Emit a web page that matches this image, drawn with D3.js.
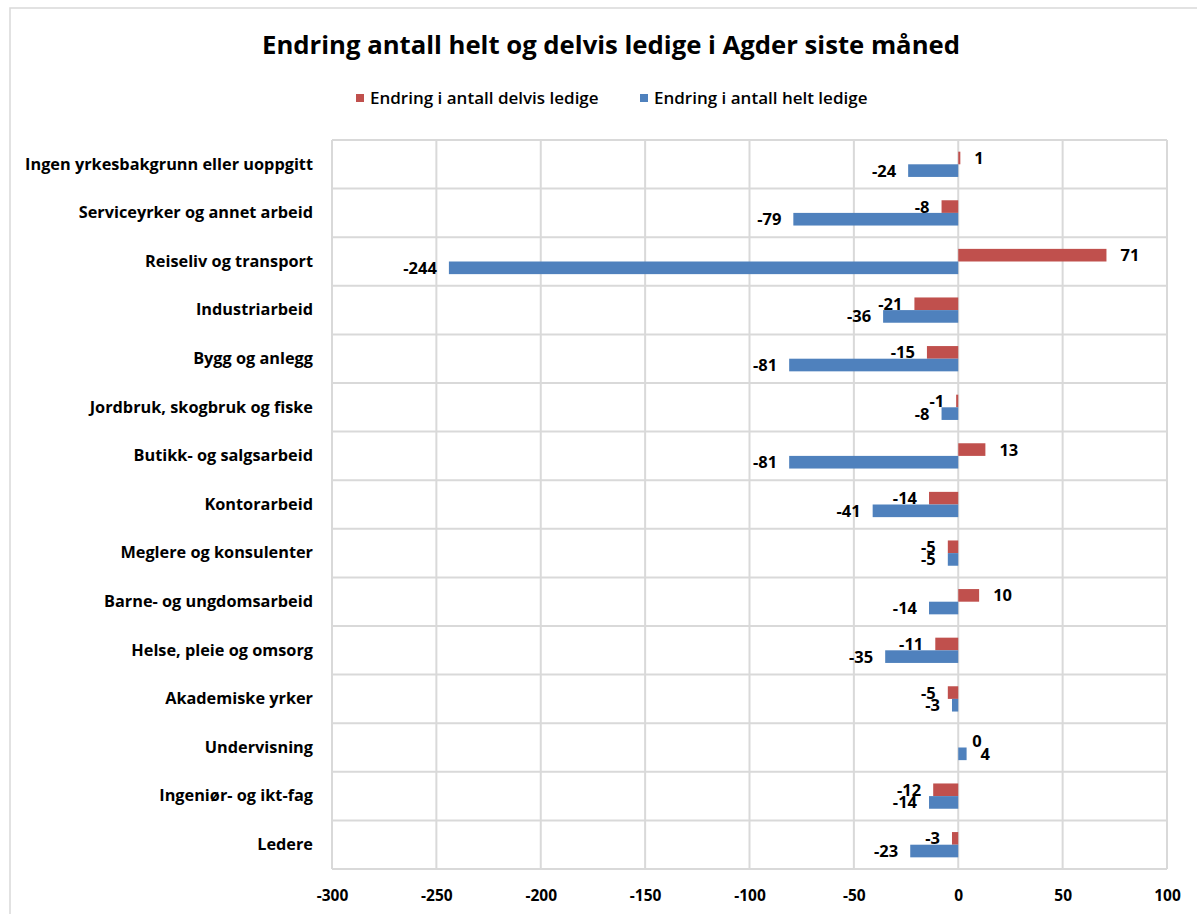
<!DOCTYPE html>
<html>
<head>
<meta charset="utf-8">
<script src="https://cdn.jsdelivr.net/npm/d3@7"></script>
<style>
  body { margin: 0; background: #fff; }
  text { font-family: "Open Sans", Lato, sans-serif; fill: #000; }
</style>
</head>
<body>
<div id="chartDiv"></div>
<script>
var categories = [
  "Ingen yrkesbakgrunn eller uoppgitt",
  "Serviceyrker og annet arbeid",
  "Reiseliv og transport",
  "Industriarbeid",
  "Bygg og anlegg",
  "Jordbruk, skogbruk og fiske",
  "Butikk- og salgsarbeid",
  "Kontorarbeid",
  "Meglere og konsulenter",
  "Barne- og ungdomsarbeid",
  "Helse, pleie og omsorg",
  "Akademiske yrker",
  "Undervisning",
  "Ingeniør- og ikt-fag",
  "Ledere"
];
var seriesNames = ["Endring i antall delvis ledige", "Endring i antall helt ledige"];
var delvis = [1, -8, 71, -21, -15, -1, 13, -14, -5, 10, -11, -5, 0, -12, -3];
var helt = [-24, -79, -244, -36, -81, -8, -81, -41, -5, -14, -35, -3, 4, -14, -23];
var xTicks = [-300, -250, -200, -150, -100, -50, 0, 50, 100];
var colors = ["#C0504D", "#4F81BD"];

var svg = d3.select("#chartDiv").append("svg")
    .attr("width", 1197)
    .attr("height", 914);

var plot = {left: 332, right: 1167, top: 140, bottom: 869};

// outer chart frame (runs past the picture on the right and bottom)
svg.append("rect")
    .attr("x", 10).attr("y", 8)
    .attr("width", 1220).attr("height", 940)
    .attr("fill", "none")
    .attr("stroke", "#D9D9D9")
    .attr("stroke-width", 1.5);

var x_scale = d3.scaleLinear()
    .domain([-300, 100])
    .range([plot.left, plot.right]);

var y_scale = d3.scaleBand()
    .domain(categories)
    .range([plot.top, plot.bottom]);

var groupH = y_scale.bandwidth() * 0.52;
var y_inner = d3.scaleBand()
    .domain(seriesNames)
    .range([(y_scale.bandwidth() - groupH) / 2, (y_scale.bandwidth() + groupH) / 2]);

// gridlines
var grid = svg.append("g").attr("class", "grid");
grid.selectAll(".vgrid").data(xTicks).enter()
  .append("line")
    .attr("x1", function(d){ return x_scale(d); })
    .attr("x2", function(d){ return x_scale(d); })
    .attr("y1", plot.top).attr("y2", plot.bottom)
    .attr("stroke", "#D9D9D9").attr("stroke-width", 2);

var bounds = categories.map(function(c){ return y_scale(c); }).concat([plot.bottom]);
grid.selectAll(".hgrid").data(bounds).enter()
  .append("line")
    .attr("x1", plot.left).attr("x2", plot.right)
    .attr("y1", function(d){ return d; })
    .attr("y2", function(d){ return d; })
    .attr("stroke", "#D9D9D9").attr("stroke-width", 2);

// bars
var rows = categories.map(function(c, i){
  return [
    {cat: c, s: seriesNames[0], v: delvis[i], col: colors[0]},
    {cat: c, s: seriesNames[1], v: helt[i], col: colors[1]}
  ];
});
var flat = [].concat.apply([], rows);

var bars = svg.append("g").attr("class", "bars");
bars.selectAll("rect").data(flat).enter()
  .append("rect")
    .attr("x", function(d){ return x_scale(Math.min(0, d.v)); })
    .attr("y", function(d){ return y_scale(d.cat) + y_inner(d.s); })
    .attr("width", function(d){ return Math.abs(x_scale(d.v) - x_scale(0)); })
    .attr("height", y_inner.bandwidth())
    .attr("fill", function(d){ return d.col; });

// data labels
bars.selectAll("text").data(flat).enter()
  .append("text")
    .attr("x", function(d){ return d.v < 0 ? x_scale(d.v) - 12 : x_scale(d.v) + 14; })
    .attr("y", function(d){ return y_scale(d.cat) + y_inner(d.s) + y_inner.bandwidth() / 2; })
    .attr("dy", "0.36em")
    .attr("text-anchor", function(d){ return d.v < 0 ? "end" : "start"; })
    .style("font-size", "16.5px")
    .style("font-weight", "bold")
    .text(function(d){ return String(d.v); });

// category axis
var yAxis = d3.axisLeft(y_scale).tickSize(0).tickPadding(19);
var yGroup = svg.append("g")
    .attr("transform", "translate(" + plot.left + ",0)")
    .call(yAxis);
yGroup.select(".domain").remove();
yGroup.selectAll("text")
    .style("font-size", "16.3px")
    .style("font-weight", "bold");

// value axis
var xAxis = d3.axisBottom(x_scale).tickValues(xTicks)
    .tickFormat(function(d){ return String(d); })
    .tickSize(0).tickPadding(21);
var xGroup = svg.append("g")
    .attr("transform", "translate(0," + plot.bottom + ")")
    .call(xAxis);
xGroup.select(".domain").remove();
xGroup.selectAll("text")
    .style("font-size", "15.5px")
    .style("font-weight", "bold");

// title
svg.append("text")
    .attr("x", 611).attr("y", 54)
    .attr("text-anchor", "middle")
    .style("font-size", "25.7px")
    .style("font-weight", "bold")
    .text("Endring antall helt og delvis ledige i Agder siste måned");

// legend
var legendX = [356, 640];
var legend = svg.append("g").attr("class", "legend");
var items = legend.selectAll("g").data(seriesNames).enter()
  .append("g")
    .attr("transform", function(d, i){ return "translate(" + legendX[i] + ",98)"; });
items.append("rect")
    .attr("x", 0).attr("y", -4)
    .attr("width", 8).attr("height", 8)
    .attr("fill", function(d, i){ return colors[i]; });
items.append("text")
    .attr("x", 14).attr("dy", "0.36em")
    .style("font-size", "17px")
    .style("font-weight", 600)
    .text(function(d){ return d; });
</script>
</body>
</html>
